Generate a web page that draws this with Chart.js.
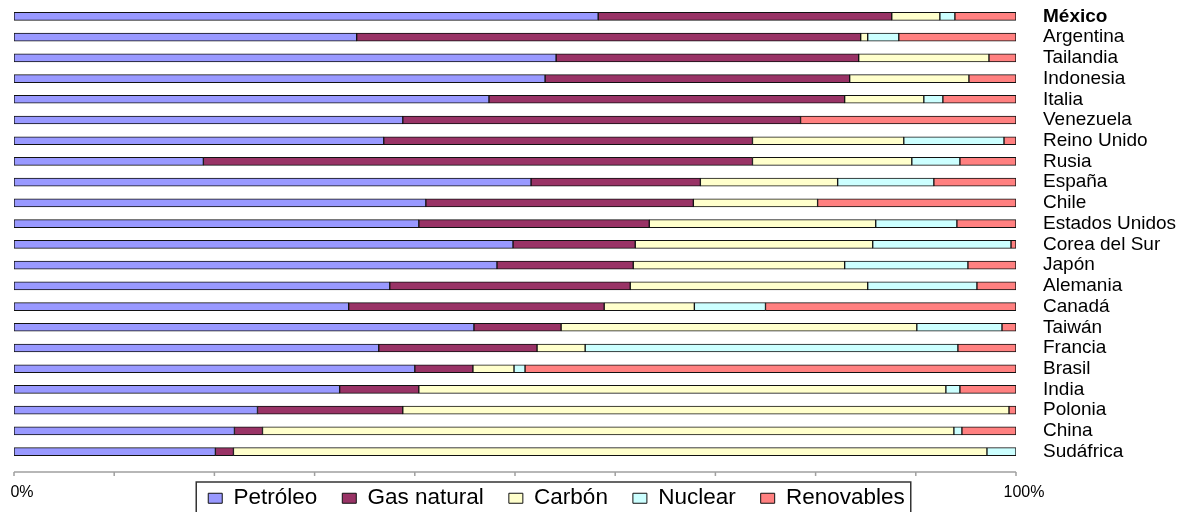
<!DOCTYPE html>
<html>
<head>
<meta charset="utf-8">
<script src="https://cdn.jsdelivr.net/npm/chart.js@4.4.1/dist/chart.umd.min.js"></script>
<style>
  body { margin: 0; background: #fff; }
  #wrap { width: 1185px; height: 512px; }
</style>
</head>
<body>
<div id="wrap"><canvas id="myChart"></canvas></div>
<script>
const countries = ['México', 'Argentina', 'Tailandia', 'Indonesia', 'Italia', 'Venezuela', 'Reino Unido', 'Rusia',
  'España', 'Chile', 'Estados Unidos', 'Corea del Sur', 'Japón', 'Alemania', 'Canadá', 'Taiwán', 'Francia',
  'Brasil', 'India', 'Polonia', 'China', 'Sudáfrica'];

const petroleo   = [58.3, 34.2, 54.1, 53.0, 47.4, 38.8, 36.9, 18.9, 51.6, 41.1, 40.4, 49.8, 48.2, 37.5, 33.4, 45.9, 36.4, 40.0, 32.5, 24.3, 22.0, 20.1];
const gasNatural = [29.3, 50.3, 30.2, 30.4, 35.5, 39.7, 36.8, 54.8, 16.9, 26.7, 23.0, 12.2, 13.6, 24.0, 25.5,  8.7, 15.8,  5.8,  7.9, 14.5,  2.8,  1.8];
const carbon     = [ 4.8,  0.7, 13.0, 11.9,  7.9,  0.0, 15.1, 15.9, 13.7, 12.4, 22.6, 23.7, 21.1, 23.7,  9.0, 35.5,  4.8,  4.1, 52.6, 60.5, 69.0, 75.2];
const nuclear    = [ 1.5,  3.1,  0.0,  0.0,  1.9,  0.0, 10.0,  4.8,  9.6,  0.0,  8.1, 13.8, 12.3, 10.9,  7.1,  8.5, 37.2,  1.1,  1.4,  0.0,  0.8,  2.9];
const renovables = [ 6.1, 11.7,  2.7,  4.7,  7.3, 21.5,  1.2,  5.6,  8.2, 19.8,  5.9,  0.5,  4.8,  3.9, 25.0,  1.4,  5.8, 49.0,  5.6,  0.7,  5.4,  0.0];

const seriesNames = ['Petróleo', 'Gas natural', 'Carbón', 'Nuclear', 'Renovables'];
const seriesColors = ['#9999ff', '#993366', '#ffffcc', '#ccffff', '#ff8080'];

const xTickValues = [0, 10, 20, 30, 40, 50, 60, 70, 80, 90, 100];
const xTickLabels = ['0%', '', '', '', '', '', '', '', '', '', '100%'];

const FONT = '"Liberation Sans", Arial, sans-serif';

// x axis sits a little below the last bar, so it is drawn here
const axisBelow = {
  id: 'axisBelow',
  afterDraw(chart) {
    const { ctx, chartArea, scales: { x } } = chart;
    const y0 = chartArea.bottom + 10;
    ctx.save();
    ctx.strokeStyle = '#a0a0a0';
    ctx.lineWidth = 1.5;
    ctx.beginPath();
    ctx.moveTo(x.getPixelForValue(0), y0);
    ctx.lineTo(x.getPixelForValue(100), y0);
    xTickValues.forEach(v => {
      const px = x.getPixelForValue(v);
      ctx.moveTo(px, y0);
      ctx.lineTo(px, y0 + 4);
    });
    ctx.stroke();
    ctx.fillStyle = '#000';
    ctx.font = '16px ' + FONT;
    ctx.textAlign = 'center';
    ctx.textBaseline = 'middle';
    xTickValues.forEach((v, i) => {
      if (xTickLabels[i]) ctx.fillText(xTickLabels[i], x.getPixelForValue(v) + 8, y0 + 21);
    });
    ctx.restore();
  }
};

// fixed legend height, legend moved a bit left, frame round it
const legendFrame = {
  id: 'legendFrame',
  beforeInit(chart) {
    const fit = chart.legend.fit;
    chart.legend.fit = function () {
      fit.call(this);
      this.height = 50;
    };
  },
  afterLayout(chart) {
    chart.legend.left -= 43;
    chart.legend.right -= 43;
  },
  afterDraw(chart) {
    const boxes = chart.legend.legendHitBoxes;
    if (!boxes || !boxes.length) return;
    const first = boxes[0];
    const last = boxes[boxes.length - 1];
    const left = first.left - 12;
    const right = last.left + last.width + 6;
    const top = first.top - 5;
    const ctx = chart.ctx;
    ctx.save();
    ctx.strokeStyle = '#333';
    ctx.lineWidth = 1.5;
    ctx.strokeRect(left, top, right - left, chart.height - top + 5);
    ctx.restore();
  }
};

const seriesData = [petroleo, gasNatural, carbon, nuclear, renovables];

const data = {
  labels: countries,
  datasets: seriesNames.map((name, i) => ({
    label: name,
    data: seriesData[i],
    backgroundColor: seriesColors[i],
    borderColor: '#111',
    borderWidth: 1,
    borderSkipped: false,
    barThickness: 8
  }))
};

const config = {
  type: 'bar',
  data: data,
  plugins: [axisBelow, legendFrame],
  options: {
    indexAxis: 'y',
    responsive: true,
    maintainAspectRatio: false,
    animation: false,
    layout: { padding: { left: 14, top: 6, right: 0, bottom: 0 } },
    scales: {
      x: { stacked: true, min: 0, max: 100, display: false },
      y: {
        stacked: true,
        position: 'right',
        grid: { display: false, drawTicks: false },
        border: { display: false },
        afterFit(scale) {
          scale.width = 169;
          scale.paddingTop = 0;
          scale.paddingBottom = 0;
        },
        ticks: {
          autoSkip: false,
          padding: 27,
          color: '#000',
          font: (c) => ({ family: FONT, size: 19, weight: c.index === 0 ? 'bold' : 'normal' })
        }
      }
    },
    plugins: {
      tooltip: { enabled: false },
      legend: {
        position: 'bottom',
        labels: {
          color: '#000',
          font: { family: FONT, size: 22.5 },
          boxWidth: 14,
          boxHeight: 10,
          padding: 25
        }
      }
    }
  }
};

const myChart = new Chart(document.getElementById('myChart').getContext('2d'), config);
</script>
</body>
</html>
